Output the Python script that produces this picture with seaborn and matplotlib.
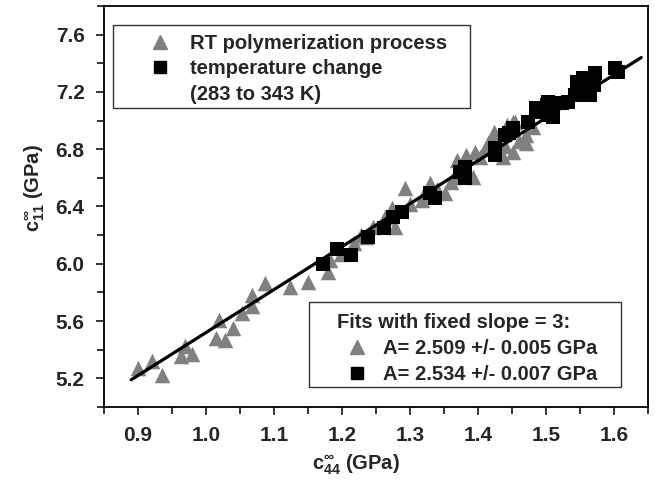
import numpy as np
import pandas as pd
import seaborn as sns
import matplotlib
matplotlib.use("Agg")
import matplotlib.pyplot as plt
from matplotlib.lines import Line2D
from matplotlib.patches import Rectangle
from matplotlib.ticker import MultipleLocator

# RT polymerization process (triangles)
rt_c44 = [0.900, 0.921, 0.936, 0.963, 0.969, 0.979, 1.015, 1.019, 1.028, 1.039,
          1.053, 1.067, 1.067, 1.087, 1.124, 1.150, 1.180, 1.182, 1.198, 1.217,
          1.228, 1.236, 1.246, 1.263, 1.273, 1.278, 1.292, 1.300, 1.317, 1.320,
          1.329, 1.340, 1.351, 1.360, 1.364, 1.369, 1.383, 1.393, 1.396, 1.403,
          1.410, 1.415, 1.423, 1.425, 1.437, 1.440, 1.442, 1.452, 1.452, 1.454,
          1.460, 1.470, 1.471, 1.481]
rt_c11 = [5.272, 5.318, 5.225, 5.358, 5.423, 5.372, 5.481, 5.604, 5.465, 5.551,
          5.656, 5.706, 5.783, 5.865, 5.841, 5.876, 5.946, 6.027, 6.070, 6.144,
          6.200, 6.190, 6.260, 6.330, 6.388, 6.260, 6.528, 6.420, 6.446, 6.490,
          6.563, 6.520, 6.493, 6.570, 6.609, 6.725, 6.760, 6.609, 6.783, 6.748,
          6.800, 6.842, 6.923, 6.900, 6.748, 6.820, 6.970, 6.993, 6.783, 6.993,
          6.860, 6.840, 6.900, 6.958]

# temperature change 283 to 343 K (squares)
tc_c44 = [1.172, 1.192, 1.213, 1.238, 1.262, 1.275, 1.288, 1.329, 1.337, 1.374,
          1.381, 1.381, 1.425, 1.425, 1.440, 1.445, 1.452, 1.474, 1.486, 1.491,
          1.501, 1.503, 1.503, 1.511, 1.523, 1.533, 1.543, 1.547, 1.545, 1.550,
          1.555, 1.560, 1.565, 1.562, 1.570, 1.572, 1.601, 1.606]
tc_c11 = [5.996, 6.100, 6.058, 6.190, 6.249, 6.330, 6.364, 6.493, 6.460, 6.644,
          6.679, 6.597, 6.807, 6.760, 6.900, 6.911, 6.946, 6.993, 7.086, 7.063,
          7.109, 7.132, 7.039, 7.027, 7.121, 7.132, 7.180, 7.214, 7.272, 7.226,
          7.295, 7.180, 7.180, 7.295, 7.249, 7.330, 7.365, 7.340]

slope = 3
fit_a = 2.52
fit_range = [0.89, 1.64]
fit_labels = ["A= 2.509 +/- 0.005 GPa", "A= 2.534 +/- 0.007 GPa"]

rt = pd.DataFrame({"c44": rt_c44, "c11": rt_c11})
tc = pd.DataFrame({"c44": tc_c44, "c11": tc_c11})
xf = np.array(fit_range)
fit = pd.DataFrame({"c44": xf, "c11": slope * xf + fit_a})

sns.set_style("ticks")
plt.rcParams["font.family"] = ["Liberation Sans", "DejaVu Sans"]
plt.rcParams["font.weight"] = "bold"
plt.rcParams["mathtext.fontset"] = "custom"
plt.rcParams["mathtext.bf"] = "Liberation Sans:bold"
plt.rcParams["mathtext.rm"] = "Liberation Sans:bold"
plt.rcParams["mathtext.default"] = "bf"

W, H = 655, 484
fig = plt.figure(figsize=(6.55, 4.84), dpi=100)
ax = fig.add_axes([104 / W, 1 - 407 / H, 544 / W, 401 / H])

grey = "#808080"
sns.scatterplot(data=rt, x="c44", y="c11", marker="^", s=125, color=grey,
                linewidth=0, ax=ax, zorder=2)
sns.scatterplot(data=tc, x="c44", y="c11", marker="s", s=90, color="black",
                linewidth=0, ax=ax, zorder=3)
sns.lineplot(data=fit, x="c44", y="c11", color="black", lw=2.3, ax=ax, zorder=4)

ax.set_xlim(0.85, 1.65)
ax.set_ylim(5.0, 7.8)
ax.xaxis.set_minor_locator(MultipleLocator(0.05))
ax.yaxis.set_minor_locator(MultipleLocator(0.2))
ax.set_xticks(np.arange(0.9, 1.61, 0.1))
ax.set_yticks(np.arange(5.2, 7.61, 0.4))
ax.set_xticklabels([f"{v:.1f}" for v in np.arange(0.9, 1.61, 0.1)])
ax.set_yticklabels([f"{v:.1f}" for v in np.arange(5.2, 7.61, 0.4)])

for s in ax.spines.values():
    s.set_visible(True)
    s.set_linewidth(1.3)
    s.set_color("black")
ax.tick_params(which="major", direction="out", length=6, width=1.3,
               labelsize=15, pad=8, top=False, right=False)
ax.tick_params(which="minor", direction="out", length=5, width=1.3,
               top=False, right=False)

ax.set_xlabel(r"$c^{\infty}_{44}$ (GPa)", fontsize=14.5, fontweight="bold")
ax.set_ylabel(r"$c^{\infty}_{11}$ (GPa)", fontsize=14.5, fontweight="bold")
ax.xaxis.set_label_coords(0.463, -0.113)
ax.yaxis.set_label_coords(-0.105, 0.546)

# legend 1
h1 = [Line2D([], [], marker="^", color=grey, ls="none", markersize=10.5),
      Line2D([], [], marker="s", color="black", ls="none", markersize=9),
      Line2D([], [], ls="none")]
leg1 = fig.legend(handles=h1,
                  labels=["RT polymerization process", "temperature change",
                          "(283 to 343 K)"],
                  loc="upper left", bbox_to_anchor=(150 / W, 1 - 34 / H),
                  bbox_transform=fig.transFigure, frameon=False,
                  borderpad=0, borderaxespad=0, handlelength=1.0,
                  handletextpad=1.0, labelspacing=0.32,
                  prop={"size": 14.5, "weight": "bold"})
fig.add_artist(Rectangle((113 / W, 1 - 108 / H), 357 / W, 83 / H,
                         transform=fig.transFigure, facecolor="white",
                         edgecolor="#333333", lw=1.0, zorder=1))

# legend 2
h2 = [Line2D([], [], marker="^", color=grey, ls="none", markersize=10.5),
      Line2D([], [], marker="s", color="black", ls="none", markersize=9)]
leg2 = fig.legend(handles=h2, labels=fit_labels, title="Fits with fixed slope = 3:",
                  loc="upper left", bbox_to_anchor=(337 / W, 1 - 313 / H),
                  bbox_transform=fig.transFigure, frameon=False,
                  borderpad=0, borderaxespad=0, handlelength=2.0,
                  handletextpad=0.3, labelspacing=0.34, alignment="left",
                  prop={"size": 14.5, "weight": "bold"},
                  title_fontproperties={"size": 14.5, "weight": "bold"})
fig.add_artist(Rectangle((309 / W, 1 - 387 / H), 312 / W, 85 / H,
                         transform=fig.transFigure, facecolor="white",
                         edgecolor="#333333", lw=1.0, zorder=1))
leg1.set_zorder(5)
leg2.set_zorder(5)

fig.savefig("out.png", dpi=100)
